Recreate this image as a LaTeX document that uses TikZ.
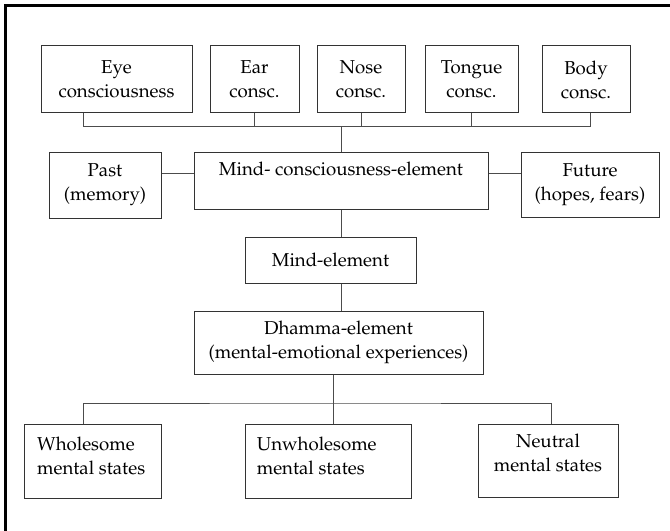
\documentclass[tikz,border=0pt]{standalone}
\usepackage[T1]{fontenc}
\usepackage{mathpazo}
\newcommand\boxfont{\fontsize{14}{18}\selectfont}
\tikzset{
	box/.style={draw=black!80, line width=0.75pt, align=center, inner sep=2pt, font=\boxfont},
	boxtext/.style={align=left, inner sep=0pt, anchor=west, font=\boxfont},
	link/.style={draw=black!70, line width=0.75pt},
	frame/.style={line width=2.6pt}
}
\begin{document}
\begin{tikzpicture}[x=0.75pt, y=-0.75pt]
		\useasboundingbox (0,0) rectangle (670,531);
		\draw[frame] (5.5,531) -- (5.5,5.5) -- (670,5.5);

		% sense consciousnesses
		\node[box, minimum width=113.25pt, minimum height=50.25pt] (eye) at (116.5,79.5) {Eye\\consciousness};
		\node[box, minimum width=66.75pt, minimum height=50.25pt] (ear) at (254.5,79.5) {Ear\\consc.};
		\node[box, minimum width=66pt, minimum height=50.25pt] (nose) at (361,79.5) {Nose\\consc.};
		\node[box, minimum width=69.75pt, minimum height=50.25pt] (tongue) at (471.5,79.5) {Tongue\\consc.};
		\node[box, minimum width=66pt, minimum height=50.25pt] (body) at (586,79.5) {Body\\consc.};

		\node[box, minimum width=84pt, minimum height=49.5pt] (past) at (105,185) {Past\\(memory)};
		\node[box, minimum width=220.5pt, minimum height=42.75pt] (mindc) at (341,180.5) {Mind- consciousness-element\\\mbox{}};
		\node[box, minimum width=103.5pt, minimum height=48.75pt] (future) at (590,184.5) {Future\\(hopes, fears)};

		\node[box, minimum width=128.25pt, minimum height=34.5pt] (mind) at (330.5,260) {Mind-element};
		\node[box, minimum width=216.75pt, minimum height=47.25pt] (dhamma) at (338.5,342.5) {Dhamma-element\\(mental-emotional experiences)};

		% left-set texts in their boxes
		\node[box, minimum width=102.75pt, minimum height=55.5pt] (whole) at (92.5,461) {};
		\node[boxtext] (wholetext) at ([xshift=10pt, yshift=3.75pt]whole.west) {Wholesome\\mental states};
		\node[box, minimum width=124.5pt, minimum height=55.5pt] (unwhole) at (328,461) {};
		\node[boxtext] (unwholetext) at ([xshift=9pt, yshift=3.75pt]unwhole.west) {Unwholesome\\mental states};
		\node[box, minimum width=105pt, minimum height=54.75pt] (neutral) at (548,460.5) {Neutral\\mental states\\[-7pt]\mbox{}};

		% upper bus
		\coordinate (topbus) at (342,127);
		\draw[link] ([xshift=-25pt]eye.south) |- ([xshift=3pt]body.south |- topbus) -- ([xshift=3pt]body.south);
		\foreach \n in {ear,nose,tongue}
			\draw[link] (\n.south) -- (\n.south |- topbus);
		\draw[link] (mindc.north) -- (mindc.north |- topbus);

		% past and future
		\coordinate (side) at (0,173);
		\draw[link] (past.east |- side) -- (mindc.west |- side);
		\draw[link] (mindc.east |- side) -- (future.west |- side);

		\draw[link] (mindc.south) -- (mindc.south |- mind.north);
		\draw[link] (mindc.south |- mind.south) -- (mindc.south |- dhamma.north);

		% lower bus
		\coordinate (lowbus) at (333,403);
		\draw[link] ([xshift=3.75pt]unwhole.north) -- ([xshift=3.75pt]unwhole.north |- dhamma.south);
		\draw[link] ([xshift=-6.4pt]whole.north) |- (lowbus) -| ([xshift=2.25pt]neutral.north);
	\end{tikzpicture}
\end{document}
